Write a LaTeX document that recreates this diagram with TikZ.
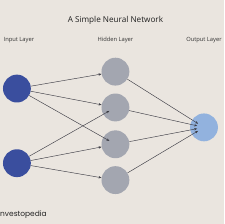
\documentclass[tikz,border=0pt]{standalone}
\usepackage{xcolor}
\usepackage{fontspec}
\setmainfont{Open Sans}
\newfontfamily\logofont{Poppins}
\usetikzlibrary{arrows.meta}
\definecolor{paper}{HTML}{EAE5DF}
\definecolor{inblue}{HTML}{3A4E9E}
\definecolor{hidgray}{HTML}{A3A6B0}
\definecolor{outblue}{HTML}{92B2DE}
\definecolor{wire}{HTML}{3C3C44}

\begin{document}
\begin{tikzpicture}[x=1pt, y=-1pt, every node/.style={font=\small},
  neuron/.style={circle, inner sep=0pt, minimum size=28pt},
  edge/.style={draw=wire, line width=0.45pt, -{Stealth[length=3pt,width=2.4pt]}},
  layer/.style={font=\fontsize{5.8}{7}\selectfont, text=black!80}]
\fill[paper] (0,0) rectangle (225,225);
\node[font=\fontsize{8.2}{10}\selectfont, text=black!88] (title) at (116,20) {A Simple Neural Network};
\node[layer] (lin) at (19,40) {Input Layer};
\node[layer] (lhid) at (116,40) {Hidden Layer};
\node[layer] (lout) at (205,40) {Output Layer};
\node[neuron, fill=inblue] (in1) at (17,89) {};
\node[neuron, fill=inblue] (in2) at (17,164) {};
\node[neuron, fill=hidgray] (h1) at (116,72) {};
\node[neuron, fill=hidgray] (h2) at (116,108) {};
\node[neuron, fill=hidgray] (h3) at (116,145) {};
\node[neuron, fill=hidgray] (h4) at (116,181) {};
\node[neuron, fill=outblue] (out) at (205,128) {};
\draw[edge] (in1) -- (h1);
\draw[edge] (in1) -- (h2);
\draw[edge, shorten >=7pt] (in1) -- (h3.center);
\draw[edge, shorten >=7pt] (in2) -- (h2.center);
\draw[edge] (in2) -- (h3);
\draw[edge] (in2) -- (h4);
\foreach \h in {h1,h2,h3,h4}
  \draw[edge, shorten >=7pt] (\h) -- (out.center);
\node[anchor=west, inner sep=0pt, font=\logofont\fontsize{7.5}{9}\selectfont, text=black!85] (logo) at (0,216) {nvestopedia};
\end{tikzpicture}
\end{document}
